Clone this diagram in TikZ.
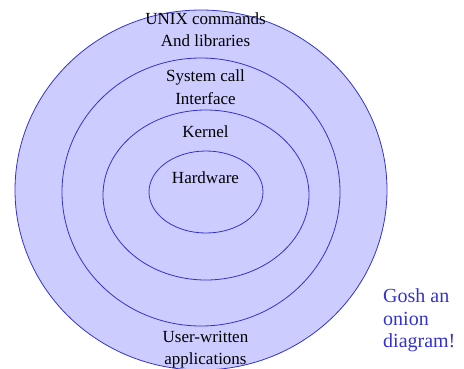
\documentclass[tikz,border=0pt]{standalone}
\usepackage{fontspec}
\setmainfont{Liberation Serif}
\definecolor{onionfill}{RGB}{204,204,255}
\definecolor{onionline}{RGB}{51,51,204}
\begin{document}
\begin{tikzpicture}[x=1pt,y=-1pt,
  layer/.style={fill=onionfill,draw=onionline,line width=0.8pt},
  lbl/.style={inner sep=0pt,anchor=base,font=\fontsize{17}{22}\selectfont,text=black},
  note/.style={inner sep=0pt,anchor=base west,font=\fontsize{20}{24}\selectfont,text=onionline}]
\useasboundingbox (0,0) rectangle (464,368);
% concentric layers, outermost first
\draw[layer] (201,190) ellipse [x radius=186, y radius=180];
\draw[layer] (201,192) ellipse [x radius=139, y radius=134];
\draw[layer] (206,195) ellipse [x radius=103, y radius=85];
\draw[layer] (206,192) ellipse [x radius=57, y radius=41];
% layer labels
\node[lbl] (unix1) at (205.5,24.3) {UNIX commands};
\node[lbl] (unix2) at (205.5,46.7) {And libraries};
\node[lbl] (sys1) at (205.5,81) {System call};
\node[lbl] (sys2) at (205.5,104) {Interface};
\node[lbl] (kern) at (205.5,137.7) {Kernel};
\node[lbl] (hw) at (205.5,183.3) {Hardware};
\node[lbl] (user1) at (205.5,342.7) {User-written};
\node[lbl] (user2) at (205.5,364.5) {applications};
% side remark
\node[note] (gosh1) at (383,302.5) {Gosh an};
\node[note] (gosh2) at (383,325) {onion};
\node[note] (gosh3) at (383,347.5) {diagram!};
\end{tikzpicture}
\end{document}
